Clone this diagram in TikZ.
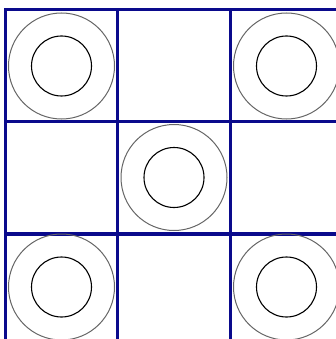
\documentclass[tikz,border=0pt]{standalone}
\usepackage{xcolor}
\definecolor{gridblue}{RGB}{10,10,140}

\begin{document}
\begin{tikzpicture}[
  x=1pt, y=-1pt,
  cell/.style={rectangle, draw=gridblue, line width=3pt, inner sep=0pt,
               minimum width=112.5pt},
  ring/.style={circle, draw=black!60, line width=1pt, inner sep=0pt,
               minimum size=106pt},
  hole/.style={circle, draw=black, line width=1.1pt, inner sep=0pt,
               minimum size=60pt},
]
\useasboundingbox (0,0) rectangle (335,339);

% board
\foreach \c/\x in {1/61.5, 2/174, 3/286.5}
  \foreach \r/\y/\h in {1/66/112, 2/177.5/111, 3/287/106}
    \node[cell, minimum height=\h pt] (c\c\r) at (\x,\y) {};

% pieces
\foreach \c/\r in {1/1, 3/1, 2/2, 1/3, 3/3} {
  \node[ring] (r\c\r) at (c\c\r.center) {};
  \node[hole] (h\c\r) at (r\c\r.center) {};
}
\end{tikzpicture}
\end{document}
